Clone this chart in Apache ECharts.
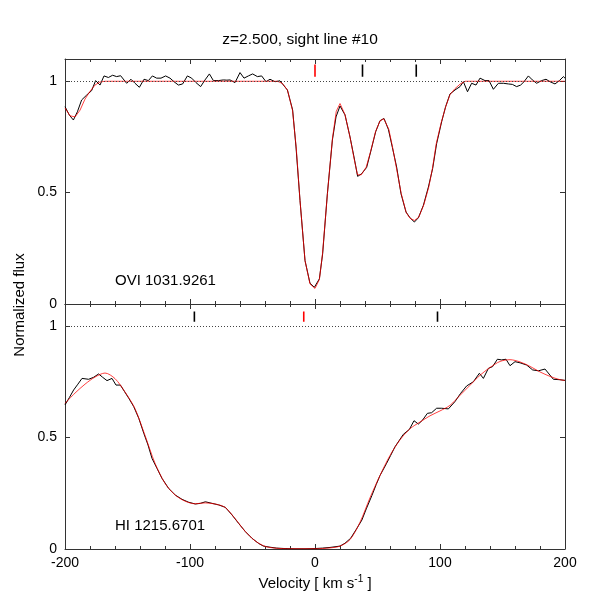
<!DOCTYPE html>
<html>
<head>
<meta charset="utf-8">
<title>z=2.500, sight line #10</title>
<script src="https://cdn.jsdelivr.net/npm/echarts@6/dist/echarts.min.js"></script>
<style>
  html, body { margin: 0; padding: 0; background: #fff; }
  #chart { width: 600px; height: 595px; }
</style>
</head>
<body>
<div id="chart"></div>
<script>
// OVI 1031.9261 - data (black) and fitted model (red)
const oviVel = [-200, -196.5, -193.3, -190.1, -186.7, -182.7, -178.7, -175.5, -172, -168.8, -165.3, -161.9, -158.7, -155.5, -150.7, -147.2, -144, -140.5, -136.8, -133.3, -130.1, -126.7, -123.2, -119.5, -116, -112.8, -109.3, -105.9, -102.1, -98.7, -95.2, -91.5, -88, -84.5, -81.3, -77.3, -73.3, -70.5, -68, -64, -60, -56.8, -53.3, -49.9, -46.1, -42.7, -39.2, -36, -32, -28, -22.1, -17.9, -15.2, -12, -8, -4, -0.5, 3.5, 6.1, 9.9, 13.9, 16.8, 20, 24, 28, 31.2, 34.1, 37.3, 41.3, 44.5, 48.5, 52, 55.2, 58.7, 61.9, 65.3, 68.8, 72.8, 76, 79.5, 82.7, 86.7, 90.7, 94.1, 97.3, 101.3, 104.5, 108, 112, 116, 118.7, 122, 125.3, 128.8, 132, 136, 139.2, 142.7, 146.7, 150.7, 154.7, 157.9, 161.3, 164.5, 167.2, 170.7, 173.9, 177.3, 181.3, 184.8, 188, 192, 195.5, 198.7, 200];
const oviFlux = [0.886, 0.848, 0.826, 0.863, 0.916, 0.938, 0.958, 1.003, 0.983, 1.024, 1.017, 1.027, 1.021, 1.025, 0.991, 1.009, 0.991, 0.973, 1.009, 1.003, 1.024, 1.014, 1.014, 1.024, 1.014, 0.998, 0.983, 0.988, 1.024, 1.014, 0.994, 0.976, 1.006, 1.033, 1.003, 1.003, 1.006, 1.005, 1.006, 0.994, 1.039, 1.014, 1.024, 1.033, 1.021, 1.024, 0.998, 1.009, 0.998, 1.002, 0.961, 0.871, 0.705, 0.465, 0.195, 0.093, 0.075, 0.113, 0.225, 0.495, 0.736, 0.84, 0.889, 0.849, 0.75, 0.66, 0.573, 0.585, 0.613, 0.683, 0.773, 0.823, 0.833, 0.784, 0.703, 0.615, 0.495, 0.413, 0.387, 0.368, 0.387, 0.443, 0.525, 0.608, 0.72, 0.818, 0.886, 0.943, 0.961, 0.976, 0.998, 0.953, 0.991, 0.983, 1.014, 1.003, 1.003, 0.964, 0.991, 0.991, 0.988, 0.986, 0.976, 0.983, 0.998, 1.024, 1.006, 0.991, 1.003, 1.009, 0.998, 0.988, 1.003, 1.021, 1.014];
const oviModelVel = [-200, -196, -192, -188, -184, -180, -176, -172, -168, -30, -26, -22, -18, -15, -12, -8, -4, 0, 3.5, 6, 10, 14, 17, 20, 24, 28, 31, 34, 37, 41, 44.5, 48.5, 52, 55, 59, 62, 65, 69, 73, 76, 79.5, 83, 87, 91, 94, 97, 101, 104.5, 108, 112, 116, 120, 200];
const oviModelFlux = [0.88, 0.845, 0.84, 0.87, 0.92, 0.955, 0.983, 0.997, 1.0, 1.0, 0.99, 0.96, 0.87, 0.70, 0.465, 0.195, 0.09, 0.07, 0.11, 0.225, 0.5, 0.745, 0.865, 0.90, 0.85, 0.75, 0.66, 0.58, 0.58, 0.615, 0.685, 0.775, 0.822, 0.832, 0.785, 0.705, 0.615, 0.495, 0.41, 0.385, 0.375, 0.39, 0.445, 0.525, 0.61, 0.72, 0.815, 0.885, 0.94, 0.967, 0.987, 1.0, 1.0];

// HI 1215.6701 - data (black) and fitted model (red)
const hiVel = [-200, -196.5, -193.1, -189.7, -186.4, -181.1, -177.1, -173.1, -169.9, -166.4, -162.4, -159.2, -155.7, -152.3, -149, -145, -141, -137, -133.6, -130.4, -126.4, -122.4, -117.1, -111.7, -106.4, -101.1, -95.7, -91.7, -87.7, -82.4, -77.1, -71.7, -66.4, -61.1, -55.7, -50.4, -45.1, -41.3, -36, -30.7, -24, -16, -8, 0, 6, 12, 20, 24, 28.5, 33, 37.5, 41, 45.5, 49, 52, 57.3, 60.5, 64, 70.7, 75.5, 79.2, 82.7, 86.1, 89.9, 93.3, 97.3, 101.3, 106.7, 112, 116.5, 121.3, 126.7, 131.5, 134.7, 138.7, 142.1, 145.9, 149.3, 152.8, 156, 160, 164, 169.3, 174.1, 178.7, 184, 190.7, 196, 200];
const hiFlux = [0.647, 0.68, 0.714, 0.74, 0.766, 0.762, 0.771, 0.786, 0.771, 0.756, 0.766, 0.736, 0.736, 0.706, 0.677, 0.639, 0.587, 0.52, 0.467, 0.407, 0.362, 0.317, 0.272, 0.242, 0.223, 0.21, 0.202, 0.205, 0.212, 0.205, 0.198, 0.187, 0.153, 0.115, 0.078, 0.048, 0.025, 0.013, 0.008, 0.004, 0.002, 0.001, 0.001, 0.002, 0.004, 0.007, 0.013, 0.026, 0.048, 0.088, 0.13, 0.18, 0.24, 0.29, 0.33, 0.385, 0.42, 0.459, 0.515, 0.537, 0.576, 0.561, 0.579, 0.609, 0.612, 0.632, 0.632, 0.629, 0.662, 0.699, 0.732, 0.751, 0.789, 0.766, 0.811, 0.819, 0.852, 0.849, 0.852, 0.823, 0.841, 0.836, 0.826, 0.804, 0.8, 0.808, 0.762, 0.76, 0.757];
const hiModelVel = [-200, -192, -184, -176, -168, -160, -152, -144, -136, -128, -120, -112, -104, -96, -88, -80, -72, -64, -56, -48, -40, -32, -20, 0, 12, 20, 28, 36, 44, 52, 60, 68, 76, 84, 92, 100, 108, 116, 124, 132, 140, 148, 156, 164, 172, 180, 188, 196, 200];
const hiModelFlux = [0.654, 0.70, 0.74, 0.772, 0.79, 0.765, 0.705, 0.63, 0.51, 0.385, 0.295, 0.243, 0.215, 0.203, 0.207, 0.202, 0.187, 0.137, 0.08, 0.037, 0.012, 0.004, 0.001, 0.001, 0.005, 0.013, 0.042, 0.12, 0.23, 0.33, 0.42, 0.49, 0.54, 0.57, 0.598, 0.62, 0.645, 0.69, 0.735, 0.78, 0.815, 0.842, 0.85, 0.84, 0.82, 0.795, 0.775, 0.76, 0.757];

// component velocities marked above the continuum
const oviMarksRed = [0];
const oviMarksBlack = [38, 81];
const hiMarksRed = [-9];
const hiMarksBlack = [-96.5, 98];

const xTicks = [-200, -100, 0, 100, 200];
const yTicks = [0, 0.5, 1];

const FONT = '"Liberation Sans", Arial, sans-serif';
const frameColor = '#333';

function pairs(xs, ys) {
  return xs.map((x, i) => [x, ys[i]]);
}

function xAxisFor(gridIndex, position, withLabels) {
  return {
    type: 'value',
    gridIndex,
    position,
    min: xTicks[0],
    max: xTicks[xTicks.length - 1],
    interval: 100,
    axisLine: { show: true, onZero: false, lineStyle: { color: frameColor, width: 1 } },
    axisTick: { show: true, inside: true, length: 5, lineStyle: { color: frameColor } },
    minorTick: { show: true, splitNumber: 5, length: 3, lineStyle: { color: frameColor } },
    splitLine: { show: false },
    axisLabel: {
      show: withLabels,
      color: '#000',
      fontSize: 14,
      fontFamily: FONT,
      margin: 7,
    },
    name: withLabels ? 'Velocity [ km s{sup|-1} ]' : '',
    nameLocation: 'middle',
    nameGap: 25,
    nameTextStyle: {
      color: '#000',
      fontSize: 15,
      fontFamily: FONT,
      rich: {
        sup: { fontSize: 10, fontFamily: FONT, color: '#000', padding: [0, 0, 9, 0] },
      },
    },
  };
}

function yAxisFor(gridIndex, position, withLabels) {
  return {
    type: 'value',
    gridIndex,
    position,
    min: 0,
    max: 1.1,
    interval: 0.5,
    axisLine: { show: true, onZero: false, lineStyle: { color: frameColor, width: 1 } },
    axisTick: { show: true, inside: true, length: 5, lineStyle: { color: frameColor } },
    splitLine: { show: false },
    axisLabel: {
      show: withLabels,
      showMaxLabel: false,
      color: '#000',
      fontSize: 14,
      fontFamily: FONT,
      margin: 8,
      formatter: (v) => (yTicks.includes(v) ? String(v) : ''),
    },
  };
}

function markerSeries(vels, color, axisIndex, y0, y1) {
  return vels.map((v) => ({
    type: 'line',
    xAxisIndex: axisIndex,
    yAxisIndex: axisIndex,
    data: [[v, y0], [v, y1]],
    symbol: 'none',
    silent: true,
    lineStyle: { color, width: 1.6 },
  }));
}

const continuumLine = {
  silent: true,
  symbol: ['none', 'none'],
  label: { show: false },
  lineStyle: { type: [1, 2], color: '#444', width: 1 },
  data: [{ yAxis: 1 }],
};

const chart = echarts.init(document.getElementById('chart'), null, { renderer: 'canvas' });

chart.setOption({
  animation: false,
  backgroundColor: '#fff',
  title: {
    text: 'z=2.500, sight line #10',
    left: 'center',
    top: 27,
    textStyle: { color: '#000', fontSize: 15.5, fontWeight: 'normal', fontFamily: FONT },
  },
  grid: [
    { left: 65, right: 35, top: 59, height: 245 },
    { left: 65, right: 35, top: 304, height: 245 },
  ],
  xAxis: [
    xAxisFor(0, 'bottom', false),
    xAxisFor(1, 'bottom', true),
    xAxisFor(0, 'top', false),
    xAxisFor(1, 'top', false),
  ],
  yAxis: [
    yAxisFor(0, 'left', true),
    yAxisFor(1, 'left', true),
    yAxisFor(0, 'right', false),
    yAxisFor(1, 'right', false),
  ],
  graphic: [
    {
      type: 'text',
      left: 115,
      top: 273,
      style: { text: 'OVI 1031.9261', fill: '#000', font: '15px ' + FONT },
    },
    {
      type: 'text',
      left: 115,
      top: 518,
      style: { text: 'HI 1215.6701', fill: '#000', font: '15px ' + FONT },
    },
    {
      type: 'text',
      x: 20,
      y: 305,
      rotation: Math.PI / 2,
      style: {
        text: 'Normalized flux',
        fill: '#000',
        font: '15px ' + FONT,
        align: 'center',
        verticalAlign: 'middle',
      },
    },
  ],
  series: [
    {
      name: 'OVI data',
      type: 'line',
      xAxisIndex: 0,
      yAxisIndex: 0,
      data: pairs(oviVel, oviFlux),
      symbol: 'none',
      lineStyle: { color: '#000', width: 1 },
      markLine: continuumLine,
    },
    {
      name: 'OVI model',
      type: 'line',
      xAxisIndex: 0,
      yAxisIndex: 0,
      data: pairs(oviModelVel, oviModelFlux),
      symbol: 'none',
      lineStyle: { color: '#ff0000', width: 1, opacity: 0.75 },
    },
    {
      name: 'HI data',
      type: 'line',
      xAxisIndex: 1,
      yAxisIndex: 1,
      data: pairs(hiVel, hiFlux),
      symbol: 'none',
      lineStyle: { color: '#000', width: 1 },
      markLine: continuumLine,
    },
    {
      name: 'HI model',
      type: 'line',
      xAxisIndex: 1,
      yAxisIndex: 1,
      data: pairs(hiModelVel, hiModelFlux),
      symbol: 'none',
      smooth: 0.3,
      lineStyle: { color: '#ff0000', width: 1, opacity: 0.75 },
    },
    ...markerSeries(oviMarksRed, '#ff0000', 0, 1.02, 1.075),
    ...markerSeries(oviMarksBlack, '#000', 0, 1.02, 1.075),
    ...markerSeries(hiMarksRed, '#ff0000', 1, 1.02, 1.066),
    ...markerSeries(hiMarksBlack, '#000', 1, 1.02, 1.066),
  ],
});
</script>
</body>
</html>
